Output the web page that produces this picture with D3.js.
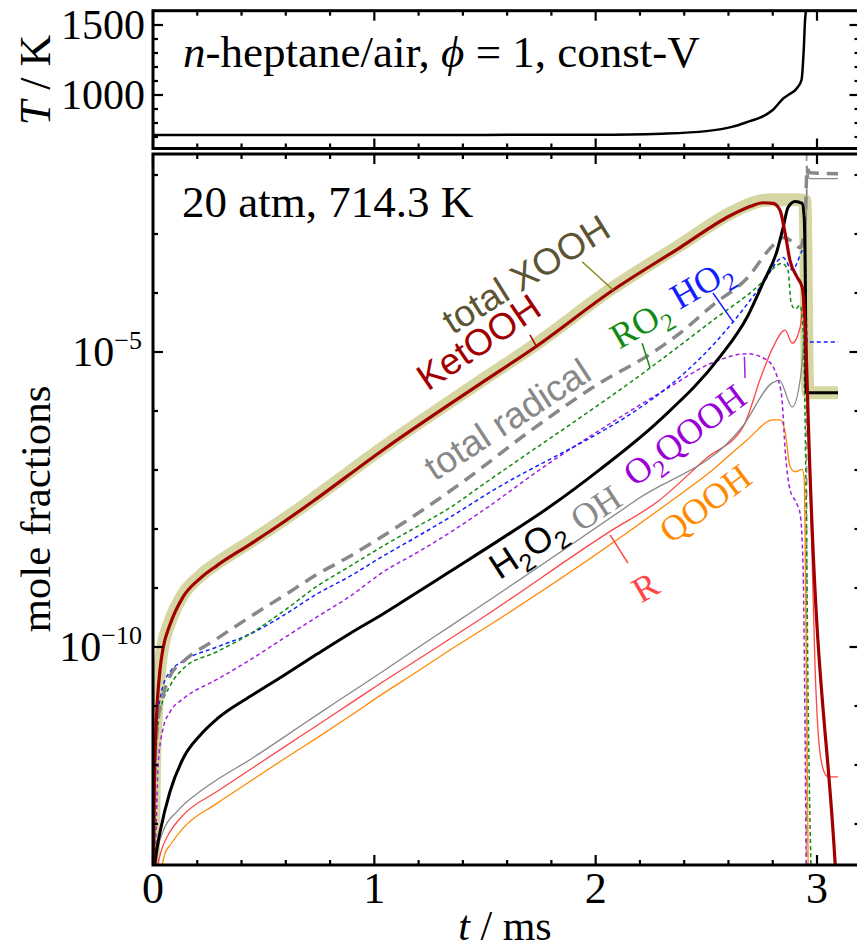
<!DOCTYPE html>
<html><head><meta charset="utf-8">
<script src="https://cdn.jsdelivr.net/npm/d3@7"></script>
<style>body{margin:0;background:#fff} svg{display:block}</style>
</head><body>
<svg id="c" width="857" height="950"></svg>
<script>
// ---------- DATA (time in ms, species as log10 of mole fraction) ----------
const tTemp = [0, 0.5, 1.0, 1.5, 2.0, 2.3, 2.5, 2.62, 2.7, 2.74, 2.8, 2.85, 2.87, 2.91, 2.93, 2.94, 2.946, 2.955, 2.97, 3.1];
const temp  = [714.3, 714.4, 714.6, 715, 716, 724, 742, 774, 815, 836, 893, 979, 1000, 1050, 1107, 1321, 1536, 1650, 2000, 2600];

const tXOOH = [0.001, 0.006, 0.012, 0.02, 0.032, 0.045, 0.077, 0.136, 0.212, 0.289, 0.438, 0.587, 0.723, 1.039, 1.478, 1.726, 2.079, 2.381, 2.607, 2.70, 2.756, 2.80, 2.85, 2.90, 2.945, 2.950, 2.955, 2.960, 3.095];
const xooh  = [-13.8, -12.2, -11.4, -10.85, -10.32, -9.98, -9.57, -9.11, -8.80, -8.58, -8.22, -7.85, -7.49, -6.62, -5.50, -4.88, -3.91, -3.19, -2.65, -2.49, -2.43, -2.42, -2.42, -2.42, -2.43, -3.3, -5.2, -5.69, -5.69];

const tKetOOH = [0.002, 0.006, 0.012, 0.02, 0.032, 0.045, 0.077, 0.136, 0.212, 0.289, 0.438, 0.587, 0.723, 1.039, 1.478, 1.726, 2.079, 2.381, 2.607, 2.70, 2.756, 2.802, 2.833, 2.856, 2.878, 2.91, 2.933, 2.942, 2.951, 2.96, 3.082, 3.104];
const ketooh  = [-13.8, -12.3, -11.5, -10.9, -10.37, -10.03, -9.62, -9.15, -8.84, -8.62, -8.26, -7.89, -7.53, -6.66, -5.54, -4.92, -3.95, -3.23, -2.69, -2.53, -2.47, -2.48, -2.60, -2.99, -3.45, -3.73, -3.90, -4.24, -4.97, -6.10, -13.67, -15.07];

const tRad = [0.002, 0.009, 0.023, 0.045, 0.077, 0.136, 0.289, 0.438, 0.587, 0.741, 0.890, 1.15, 1.40, 1.70, 2.03, 2.232, 2.381, 2.531, 2.684, 2.802, 2.847, 2.885, 2.924, 2.946, 2.955, 2.968, 3.095];
const rad  = [-13.7, -12.01, -11.22, -10.83, -10.49, -10.25, -9.86, -9.49, -9.14, -8.77, -8.46, -7.85, -7.2, -6.35, -5.5, -5.07, -4.68, -4.2, -3.75, -3.19, -3.06, -3.12, -3.23, -2.86, -1.89, -1.96, -1.98];

const tRO2 = [0.002, 0.009, 0.018, 0.032, 0.077, 0.136, 0.289, 0.438, 0.587, 0.741, 0.890, 1.039, 1.193, 1.342, 1.478, 2.246, 2.531, 2.729, 2.842, 2.869, 2.883, 2.901, 2.924, 2.937, 2.951, 2.960, 2.973];
const ro2  = [-13.7, -12.23, -11.55, -11.10, -10.66, -10.37, -10.08, -9.78, -9.40, -8.97, -8.63, -8.29, -7.96, -7.64, -7.28, -5.27, -4.46, -3.9, -3.5, -3.61, -4.17, -4.27, -4.21, -4.63, -7.5, -10.9, -13.8];

const tHO2 = [0.002, 0.009, 0.018, 0.032, 0.045, 0.077, 0.136, 0.289, 0.438, 0.587, 0.741, 0.890, 1.039, 1.193, 1.342, 1.478, 2.621, 2.75, 2.847, 2.888, 2.946, 2.955, 3.095];
const ho2  = [-13.7, -12.40, -11.33, -10.88, -10.66, -10.42, -10.24, -10.0, -9.78, -9.47, -9.10, -8.80, -8.46, -8.13, -7.80, -7.48, -4.49, -3.87, -3.40, -3.61, -3.23, -4.83, -4.83];

const tO2QOOH = [0.009, 0.018, 0.023, 0.045, 0.077, 0.136, 0.289, 0.438, 0.587, 0.741, 0.890, 1.039, 1.193, 1.342, 1.478, 1.780, 2.079, 2.336, 2.517, 2.684, 2.775, 2.820, 2.842, 2.856, 2.878, 2.910, 2.924, 2.937, 2.946, 2.951];
const o2qooh  = [-13.7, -12.57, -12.01, -11.39, -11.10, -10.88, -10.55, -10.22, -9.86, -9.49, -9.14, -8.73, -8.40, -8.06, -7.72, -6.91, -6.18, -5.59, -5.20, -5.03, -5.14, -5.42, -5.81, -6.66, -7.33, -7.58, -7.75, -8.63, -11.44, -13.7];

const tH2O2 = [0.007, 0.018, 0.032, 0.077, 0.136, 0.212, 0.289, 0.438, 0.587, 0.741, 0.890, 1.039, 1.116, 1.342, 1.568, 1.794, 2.020, 2.291, 2.562, 2.684, 2.756, 2.820, 2.847, 2.869, 2.901, 2.933, 2.942, 2.948, 2.951, 3.095];
const h2o2  = [-13.7, -13.41, -13.13, -12.45, -11.89, -11.50, -11.22, -10.84, -10.49, -10.12, -9.77, -9.44, -9.26, -8.72, -8.18, -7.62, -6.99, -6.15, -5.08, -4.41, -3.83, -3.28, -2.89, -2.55, -2.45, -2.48, -2.72, -4.12, -5.69, -5.69];

const tOH = [0.014, 0.023, 0.045, 0.108, 0.212, 0.289, 0.438, 0.587, 0.741, 0.890, 1.039, 1.193, 1.342, 1.478, 2.187, 2.666, 2.80, 2.83, 2.888, 2.924, 2.946, 2.953, 2.955, 2.964, 3.095];
const oh  = [-13.7, -13.41, -13.13, -12.79, -12.45, -12.25, -11.91, -11.54, -11.15, -10.78, -10.41, -10.02, -9.65, -9.31, -7.50, -6.25, -5.52, -5.48, -5.93, -5.47, -4.24, -2.43, -1.84, -2.06, -2.06];

const tR = [0.020, 0.041, 0.077, 0.136, 0.289, 0.438, 0.587, 0.741, 0.890, 1.039, 1.193, 1.342, 1.478, 2.065, 2.282, 2.50, 2.666, 2.75, 2.80, 2.856, 2.888, 2.924, 2.946, 2.953, 2.960, 2.978, 2.991, 3.005, 3.027, 3.050, 3.095];
const rr = [-13.7, -13.41, -13.13, -12.85, -12.45, -12.08, -11.71, -11.33, -10.96, -10.59, -10.22, -9.86, -9.53, -8.04, -7.53, -6.80, -6.27, -5.39, -4.93, -4.63, -4.85, -4.58, -3.90, -4.97, -6.15, -8.51, -10.32, -11.44, -12.06, -12.20, -12.20];

const tQOOH = [0.041, 0.054, 0.077, 0.136, 0.289, 0.438, 0.587, 0.741, 0.890, 1.039, 1.193, 1.342, 1.478, 2.350, 2.531, 2.684, 2.802, 2.833, 2.856, 2.878, 2.901, 2.933, 2.942, 2.946, 2.955, 2.960];
const qooh  = [-13.7, -13.50, -13.36, -13.07, -12.65, -12.28, -11.91, -11.54, -11.17, -10.79, -10.42, -10.05, -9.73, -7.50, -6.99, -6.49, -6.15, -6.15, -6.35, -6.94, -7.03, -6.99, -7.13, -8.06, -11.44, -13.7];

const tIgnition = [2.953];
const xTicks = [0, 1, 2, 3];
const yMajorExp = [-5, -10];
const tempTicks = [1000, 1500];

// ---------- LAYOUT ----------
const svg = d3.select("#c");
const L = 153, R = 859.5;
const mainTop = 154, mainBot = 865;
const topTop = 10.7, topBot = 148.5;

const x = d3.scaleLinear().domain([0, 3]).range([153, 817]);
const y = d3.scaleLog().domain([1e-5, 1e-10]).range([352, 647]);
const yT = d3.scaleLinear().domain([1000, 1500]).range([95, 25]);

const serif = "'Liberation Serif','Times New Roman',serif";
const sans = "'Liberation Sans',Arial,sans-serif";

const defs = svg.append("defs");
defs.append("clipPath").attr("id","clipMain").append("rect")
  .attr("x",L).attr("y",mainTop).attr("width",R-L).attr("height",mainBot-mainTop);
defs.append("clipPath").attr("id","clipTop").append("rect")
  .attr("x",L).attr("y",topTop).attr("width",R-L).attr("height",topBot-topTop);

const ser = (ts, vs) => ts.map((t,i)=>({t, v: Math.pow(10, vs[i])}));
const line = d3.line().x(d=>x(d.t)).y(d=>y(d.v)).curve(d3.curveMonotoneX);
const lineT = d3.line().x((d)=>x(d.t)).y(d=>yT(d.v)).curve(d3.curveMonotoneX);

// ---------- TOP PANEL ----------
const gTop = svg.append("g").attr("clip-path","url(#clipTop)");
gTop.append("path").datum(tTemp.map((t,i)=>({t, v: temp[i]})))
  .attr("d", lineT).attr("fill","none").attr("stroke","#000").attr("stroke-width",2.5);

// ---------- MAIN PANEL ----------
const gMain = svg.append("g").attr("clip-path","url(#clipMain)");
const specs = [
  {t:tXOOH, v:xooh, color:"#d6d6a2", w:13, dash:null},
  {t:tQOOH, v:qooh, color:"#ff8a00", w:1.3, dash:null},
  {t:tR, v:rr, color:"#ff4545", w:1.3, dash:null},
  {t:tOH, v:oh, color:"#888888", w:1.3, dash:null},
  {t:tO2QOOH, v:o2qooh, color:"#a020e0", w:1.5, dash:"4,3"},
  {t:tHO2, v:ho2, color:"#1020ff", w:1.5, dash:"4,3"},
  {t:tRO2, v:ro2, color:"#108a10", w:1.5, dash:"4,3"},
  {t:tRad, v:rad, color:"#888888", w:3.5, dash:"13,8"},
  {t:tH2O2, v:h2o2, color:"#000000", w:3, dash:null},
  {t:tKetOOH, v:ketooh, color:"#a00000", w:3.2, dash:null}
];
tIgnition.forEach(ti=>{
  gMain.append("line").attr("x1",x(ti)).attr("x2",x(ti)).attr("y1",mainTop).attr("y2",mainBot)
    .attr("stroke","#999").attr("stroke-width",1.8).attr("stroke-dasharray","7,5");
});
specs.forEach(s=>{
  gMain.append("path").datum(ser(s.t, s.v)).attr("d", line)
    .attr("fill","none").attr("stroke", s.color).attr("stroke-width", s.w)
    .attr("stroke-linejoin","round")
    .attr("stroke-dasharray", s.dash);
});

// leader ticks (data coords: t, log10)
const leaders = [
  {a:[1.939,-3.47], b:[2.079,-3.95], color:"#8a8a20"},
  {a:[1.703,-4.71], b:[1.735,-4.92], color:"#a00000"},
  {a:[2.210,-4.85], b:[2.246,-5.27], color:"#108a10"},
  {a:[2.530,-4.00], b:[2.621,-4.49], color:"#1020ff"},
  {a:[2.672,-5.08], b:[2.675,-5.44], color:"#a020e0"},
  {a:[2.065,-8.10], b:[2.146,-8.58], color:"#ff4545"}
];
leaders.forEach(l=>{
  svg.append("line").attr("x1",x(l.a[0])).attr("y1",y(10**l.a[1]))
    .attr("x2",x(l.b[0])).attr("y2",y(10**l.b[1]))
    .attr("stroke",l.color).attr("stroke-width",1.5);
});

const labels = [
  {parts:[["total XOOH",0]], t:1.685, e:-3.68, ang:-32, color:"#5c5433", font:sans, fs:37},
  {parts:[["KetOOH",0]], t:1.47, e:-4.83, ang:-34, color:"#a00000", font:sans, fs:37},
  {parts:[["total radical",0]], t:1.60, e:-6.14, ang:-33, color:"#888888", font:sans, fs:37},
  {parts:[["RO",0],["2",1]], t:2.20, e:-4.51, ang:-30, color:"#108a10", font:serif, fs:36},
  {parts:[["HO",0],["2",1]], t:2.476, e:-3.83, ang:-30, color:"#1020ff", font:serif, fs:36},
  {parts:[["O",0],["2",1],["QOOH",0]], t:2.40, e:-6.40, ang:-37, color:"#9a00d8", font:serif, fs:36},
  {parts:[["H",0],["2",1],["O",0],["2",1]], t:1.69, e:-8.31, ang:-33, color:"#000000", font:sans, fs:36},
  {parts:[["OH",0]], t:2.0, e:-7.64, ang:-33, color:"#888888", font:serif, fs:36},
  {parts:[["QOOH",0]], t:2.494, e:-7.56, ang:-37, color:"#ff8a00", font:serif, fs:36},
  {parts:[["R",0]], t:2.223, e:-8.98, ang:-30, color:"#ff4545", font:serif, fs:36}
];
labels.forEach(lb=>{
  const tx = svg.append("text")
    .attr("transform", `translate(${x(lb.t)},${y(10**lb.e)}) rotate(${lb.ang})`)
    .attr("text-anchor","middle").attr("dy","0.35em")
    .attr("font-family", lb.font).attr("font-size", lb.fs).attr("fill", lb.color);
  let sub = false;
  const sfs = Math.round(lb.fs*0.7), sdy = Math.round(lb.fs*0.24);
  lb.parts.forEach(p=>{
    const ts = tx.append("tspan").text(p[0]);
    if (p[1] && !sub) { ts.attr("font-size", sfs).attr("dy", sdy); sub = true; }
    else if (!p[1] && sub) { ts.attr("dy", -sdy); sub = false; }
    else if (p[1]) { ts.attr("font-size", sfs); }
  });
});

// ---------- FRAMES & TICKS ----------
function frame(top, bot) {
  svg.append("rect").attr("x",L).attr("y",top).attr("width",R-L).attr("height",bot-top)
    .attr("fill","none").attr("stroke","#000").attr("stroke-width",3);
}
frame(topTop, topBot);
frame(mainTop, mainBot);

const tk = (x1,y1,x2,y2)=>svg.append("line").attr("x1",x1).attr("y1",y1).attr("x2",x2).attr("y2",y2)
  .attr("stroke","#000").attr("stroke-width",2.2);

d3.range(0, 16).map(i=>i*0.2).forEach(v=>{
  const px = x(v);
  if (px > R - 2) return;
  const major = Math.abs(v - Math.round(v)) < 1e-6;
  const len = major ? 10 : 5;
  tk(px, mainBot, px, mainBot-len);
  tk(px, mainTop, px, mainTop+len);
  tk(px, topBot, px, topBot-len);
  tk(px, topTop, px, topTop+len);
});
d3.range(-13, -1).forEach(e=>{
  const py = y(10**e);
  const major = yMajorExp.includes(e);
  const len = major ? 10 : 5;
  tk(L, py, L+len, py);
  tk(R, py, R-len, py);
});
d3.range(700, 1600, 100).forEach(v=>{
  const py = yT(v);
  const major = tempTicks.includes(v);
  const len = major ? 10 : 5;
  tk(L, py, L+len, py);
  tk(R, py, R-len, py);
});

// ---------- TICK LABELS ----------
xTicks.forEach(v=>{
  svg.append("text").attr("x", x(v)).attr("y", 903).attr("text-anchor","middle")
    .attr("font-family",serif).attr("font-size",44).text(v);
});
yMajorExp.forEach(e=>{
  const t = svg.append("text").attr("x", 142).attr("y", y(10**e)+14).attr("text-anchor","end")
    .attr("font-family",serif).attr("font-size",42);
  t.append("tspan").text("10");
  t.append("tspan").attr("font-size",26).attr("dy",-17).text("\u2212"+Math.abs(e));
});
tempTicks.forEach(v=>{
  svg.append("text").attr("x", 145).attr("y", yT(v)+14).attr("text-anchor","end")
    .attr("font-family",serif).attr("font-size",42).text(v);
});

// ---------- AXIS TITLES & ANNOTATIONS ----------
const xt = svg.append("text").attr("x", 505).attr("y", 940).attr("text-anchor","middle")
  .attr("font-family",serif).attr("font-size",42);
xt.append("tspan").attr("font-style","italic").text("t");
xt.append("tspan").text(" / ms");

svg.append("text").attr("transform","translate(50,509) rotate(-90)").attr("text-anchor","middle")
  .attr("font-family",serif).attr("font-size",43).text("mole fractions");

const tt = svg.append("text").attr("transform","translate(50,80) rotate(-90)").attr("text-anchor","middle")
  .attr("font-family",serif).attr("font-size",44);
tt.append("tspan").attr("font-style","italic").text("T");
tt.append("tspan").text(" / K");

const a1 = svg.append("text").attr("x", 183).attr("y", 67)
  .attr("font-family",serif).attr("font-size",45);
a1.append("tspan").attr("font-style","italic").text("n");
a1.append("tspan").text("-heptane/air, ");
a1.append("tspan").attr("font-style","italic").text("\u03d5");
a1.append("tspan").text(" = 1, const-V");

svg.append("text").attr("x", 182).attr("y", 217)
  .attr("font-family",serif).attr("font-size",45).text("20 atm, 714.3 K");
</script>
</body></html>
